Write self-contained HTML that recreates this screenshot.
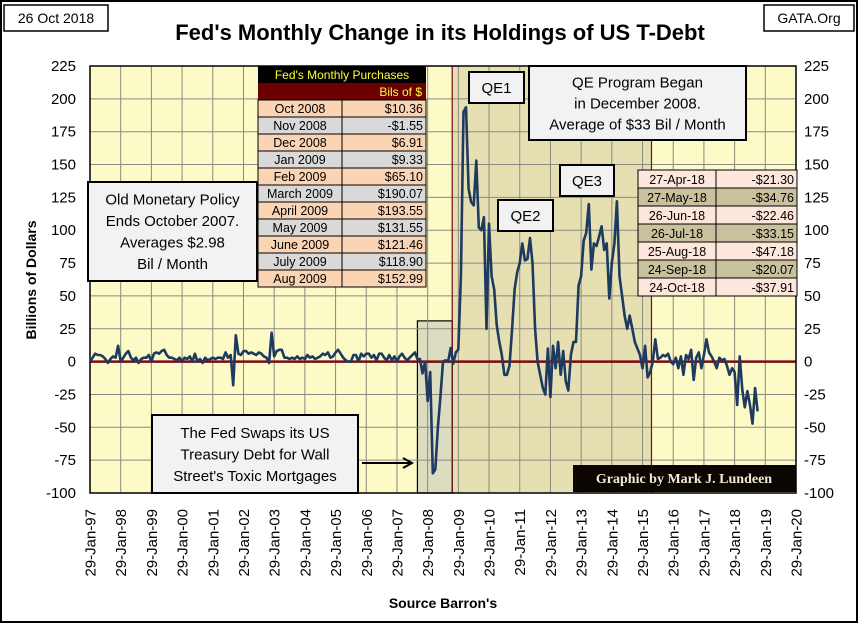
<!DOCTYPE html>
<html><head><meta charset="utf-8"><style>
body{margin:0;background:#fff;}
svg text{font-family:"Liberation Sans",sans-serif;}
</style></head><body>
<svg id="chart" width="858" height="623" viewBox="0 0 858 623" xmlns="http://www.w3.org/2000/svg">
<rect x="1" y="1" width="856" height="621" fill="#fff" stroke="#000" stroke-width="2"/>
<rect x="4" y="5" width="104" height="26" fill="#fff" stroke="#000" stroke-width="1.5"/>
<text x="56" y="23" font-size="14" text-anchor="middle">26 Oct 2018</text>
<rect x="764" y="5" width="90" height="26" fill="#fff" stroke="#000" stroke-width="1.5"/>
<text x="809" y="23" font-size="14" text-anchor="middle">GATA.Org</text>
<text x="440" y="40" font-size="22" font-weight="bold" text-anchor="middle">Fed's Monthly Change in its Holdings of US T-Debt</text>
<g id="plot"></g>
<text transform="translate(36,280) rotate(-90)" font-size="14" font-weight="bold" text-anchor="middle">Billions  of Dollars</text>
<text x="443" y="608" font-size="14" font-weight="bold" text-anchor="middle">Source Barron's</text>
</svg>
<script>
const yTicks=[225,200,175,150,125,100,75,50,25,0,-25,-50,-75,-100];
const xYears=['97','98','99','00','01','02','03','04','05','06','07','08','09','10','11','12','13','14','15','16','17','18','19','20'];
const values=[0,3,6,5,5,4,2,-1,2,4,3,12,
0,3,6,8,3,1,3,-1,2,3,3,5,
0,6,7,6,8,9,5,3,3,2,1,3,
0,3,2,4,0,6,0,2,-1,3,1,2,
3,2,3,3,2,7,3,5,-18,20,6,5,
8,8,6,7,6,5,7,6,4,3,-1,22,
4,8,9,9,3,3,2,3,2,4,2,3,
2,5,3,4,2,3,4,6,5,7,3,4,
7,9,6,3,1,0,0,5,5,0,6,4,
6,6,3,5,1,6,6,3,1,5,1,4,
0,4,6,3,1,3,5,7,2,2,
-9,0,-30,-8,-85,-82,-50,-27,0,1,0,10.36,-1.55,6.91,9.33,65.10,190.07,193.55,131.55,121.46,118.90,152.99,
102,100,110,25,105,65,55,28,15,5,-10,-10,-3,25,55,68,75,90,77,78,94,75,25,0,-10,-20,-25,10,-27,12,-5,15,-10,8,-15,-22,5,15,15,
58,65,92,98,120,70,90,88,95,103,85,90,48,75,90,122,65,50,35,25,35,25,15,10,5,-5,12,-12,-8,0,17,2,3,5,4,6,0,-2,3,-5,4,-10,5,2,9,-14,3,7,-5,5,17,7,4,0,-5,3,1,2,-3,-10,-5,-8,-33,4,
-21.30,-34.76,-22.46,-33.15,-47.18,-20.07,-37.91];
const leftDates=['Oct 2008','Nov 2008','Dec 2008','Jan 2009','Feb 2009','March 2009','April 2009','May 2009','June 2009','July 2009','Aug 2009'];
const leftVals=['$10.36','-$1.55','$6.91','$9.33','$65.10','$190.07','$193.55','$131.55','$121.46','$118.90','$152.99'];
const rightDates=['27-Apr-18','27-May-18','26-Jun-18','26-Jul-18','25-Aug-18','24-Sep-18','24-Oct-18'];
const rightVals=['-$21.30','-$34.76','-$22.46','-$33.15','-$47.18','-$20.07','-$37.91'];

const NS='http://www.w3.org/2000/svg';
const X0=90,X1=796,Y0=66,Y1=493,YMAX=225,YMIN=-100;
const monthW=(X1-X0)/(23*12);
function xm(i){return X0+i*monthW;}
function yv(v){return Y0+(YMAX-v)/(YMAX-YMIN)*(Y1-Y0);}
const g=document.getElementById('plot');
function mk(tag,attrs,parent){const e=document.createElementNS(NS,tag);for(const k in attrs)e.setAttribute(k,attrs[k]);(parent||g).appendChild(e);return e;}

let e;
e=mk('rect',{x:X0,y:Y0,width:X1-X0,height:Y1-Y0,fill:'#fcfac6'});


e=mk('rect',{x:xm(141.6),y:Y0,width:xm(219.5)-xm(141.6),height:Y1-Y0,fill:'#e6dfb2'});


e=mk('rect',{x:xm(128),y:yv(31),width:xm(141.6)-xm(128),height:Y1-yv(31),fill:'#dcdcc0',stroke:'#000','stroke-width':1.2});


yTicks.forEach(t=>{
  const l=mk('line',{x1:X0,x2:X1,y1:yv(t),y2:yv(t),stroke:'#8a8a80','stroke-width':1});
  
  
  const a=mk('text',{x:X0-14,y:yv(t)+5,'font-size':15,'text-anchor':'end'});a.textContent=t;
  
  
  const b=mk('text',{x:X1+8,y:yv(t)+5,'font-size':15});b.textContent=t;
  
  
});
xYears.forEach((yr,k)=>{
  const x=xm(k*12);
  const l=mk('line',{x1:x,x2:x,y1:Y0,y2:Y1,stroke:'#8a8a80','stroke-width':1});
  
  
  const t=mk('text',{transform:`translate(${x+5.5},509) rotate(-90)`,'font-size':15,'text-anchor':'end'});
  t.textContent='29-Jan-'+yr;
  
  
});
[141.6,219.5].forEach(i=>{
  const l=mk('line',{x1:xm(i),x2:xm(i),y1:Y0,y2:Y1,stroke:'#7a0a14','stroke-width':1.2});
  
  
});
e=mk('line',{x1:X0,x2:X1,y1:yv(0),y2:yv(0),stroke:'#7a0a14','stroke-width':2.5});


e=mk('rect',{x:X0,y:Y0,width:X1-X0,height:Y1-Y0,fill:'none',stroke:'#000','stroke-width':1.5});


e=mk('polyline',{points:values.map((v,i)=>xm(i).toFixed(1)+','+yv(v).toFixed(1)).join(' '),fill:'none',stroke:'#1e3a5f','stroke-width':2.6,'stroke-linejoin':'round'});



function box(x,y,w,h,lines,fs,name,lh){
  const r=mk('rect',{x:x,y:y,width:w,height:h,fill:'#f2f2f2',stroke:'#000','stroke-width':2});
  
  
  const n=lines.length;lh=lh||fs*1.3;
  lines.forEach((s,k)=>{
    const t=mk('text',{x:x+w/2,y:y+h/2+(k-(n-1)/2)*lh+fs*0.36,'font-size':fs,'text-anchor':'middle'});t.textContent=s;
    
    
  });
}
box(88,182,169,99,['Old Monetary Policy','Ends October 2007.','Averages $2.98','Bil / Month'],15,'old-policy-note',21.5);
box(529,66,217,74,['QE Program Began','in December 2008.','Average of $33 Bil / Month'],15,'qe-program-note',21);
box(152,415,206,78,['The Fed Swaps its US','Treasury Debt for Wall',"Street's Toxic Mortgages"],15,'swap-note',21.5);
box(469,72,55,31,['QE1'],15,'qe1-label');
box(498,200,55,31,['QE2'],15,'qe2-label');
box(560,165,54,31,['QE3'],15,'qe3-label');
e=mk('line',{x1:362,x2:410,y1:463,y2:463,stroke:'#000','stroke-width':2});


e=mk('path',{d:'M403,458 L412,463 L403,468',fill:'none',stroke:'#000','stroke-width':2});



// left table
const TX=258,TM=342,TR=426,TY=66;
e=mk('rect',{x:TX,y:TY,width:TR-TX,height:17,fill:'#000'});


e=mk('text',{x:(TX+TR)/2,y:TY+13,'font-size':12,fill:'#ffff33','text-anchor':'middle',style:'font-family:"Liberation Sans Narrow","Liberation Sans",sans-serif'});e.textContent="Fed's Monthly Purchases";


e=mk('rect',{x:TX,y:TY+17,width:TR-TX,height:17,fill:'#6b0000'});


e=mk('text',{x:TR-4,y:TY+30,'font-size':12,fill:'#ffff33','text-anchor':'end'});e.textContent='Bils of $';


leftDates.forEach((d,k)=>{
  const y=TY+34+k*17, c=k%2?'#d9d9d9':'#fbd4b4';
  const r=mk('rect',{x:TX,y:y,width:TM-TX,height:17,fill:c,stroke:'#000','stroke-width':1});
  
  
  const r2=mk('rect',{x:TM,y:y,width:TR-TM,height:17,fill:c,stroke:'#000','stroke-width':1});
  
  
  const t=mk('text',{x:(TX+TM)/2,y:y+13,'font-size':12.5,'text-anchor':'middle'});t.textContent=d;
  
  
  const v=mk('text',{x:TR-3,y:y+13,'font-size':12.5,'text-anchor':'end'});v.textContent=leftVals[k];
  
  
});
// right table
const RX=638,RM=716,RR=797,RY=170;
rightDates.forEach((d,k)=>{
  const y=RY+k*18, c=k%2?'#c9c19d':'#fde6dc';
  const r=mk('rect',{x:RX,y:y,width:RM-RX,height:18,fill:c,stroke:'#000','stroke-width':1});
  
  
  const r2=mk('rect',{x:RM,y:y,width:RR-RM,height:18,fill:c,stroke:'#000','stroke-width':1});
  
  
  const t=mk('text',{x:(RX+RM)/2,y:y+14,'font-size':12.5,'text-anchor':'middle'});t.textContent=d;
  
  
  const v=mk('text',{x:RR-3,y:y+14,'font-size':12.5,'text-anchor':'end'});v.textContent=rightVals[k];
  
  
});
e=mk('rect',{x:573,y:465,width:223,height:27,fill:'#0c0603'});


e=mk('text',{x:684,y:483,'font-size':14,'font-weight':'bold',fill:'#f1ead2','text-anchor':'middle',style:'font-family:"Liberation Serif",serif'});e.textContent='Graphic by Mark J. Lundeen';


</script>
</body></html>
